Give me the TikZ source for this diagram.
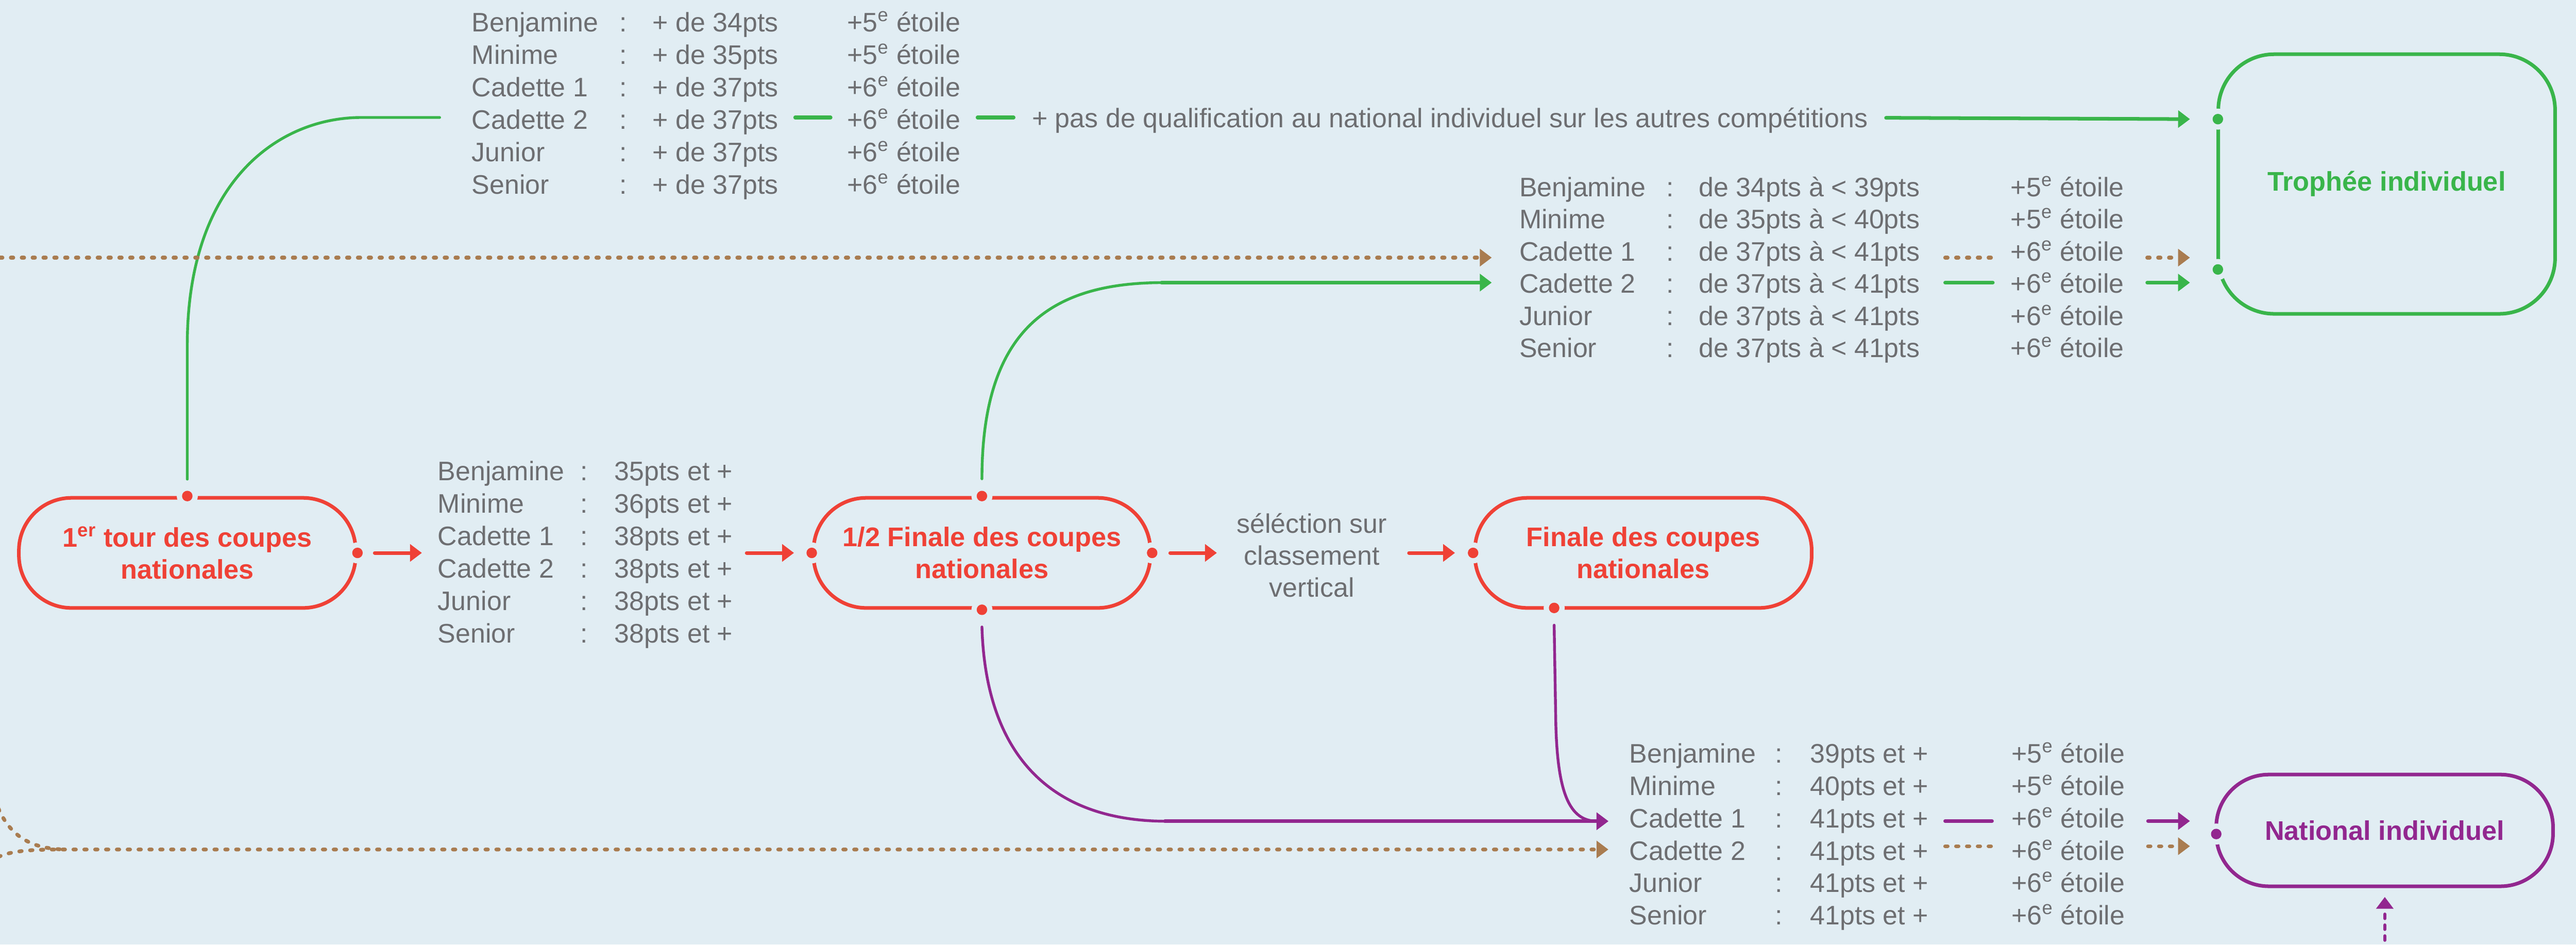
\documentclass[tikz,border=0pt]{standalone}
\usepackage{fontspec}
\setmainfont{Liberation Sans}
\usetikzlibrary{arrows.meta}
\definecolor{bgc}{HTML}{E1EDF3}
\definecolor{gr}{HTML}{39B54A}
\definecolor{rd}{HTML}{EF4136}
\definecolor{pu}{HTML}{92278F}
\definecolor{br}{HTML}{A97C50}
\definecolor{tx}{HTML}{6D6E71}
\newcommand\jdot[2]{\fill[bgc] (#2) circle (6.4pt); \fill[#1] (#2) circle (3.2pt);}
\tikzset{
 txt/.style={anchor=base west, inner sep=0pt, text=tx, font=\fontsize{16.3}{19.5}\selectfont},
 pill/.style={draw=#1, text=#1, rounded corners=32pt, line width=2.2pt, minimum width=205pt, minimum height=67pt, inner sep=0pt, align=center, font=\fontsize{16.4}{19.3}\selectfont\bfseries},
 tip/.style={-{Triangle[length=7.2pt,width=10.3pt]}},
 arr/.style={line width=2.2pt, line cap=round, tip},
 seg/.style={line width=2.2pt, line cap=round},
 crv/.style={line width=1.7pt, line cap=round},
 dots/.style={line width=2.3pt, line cap=round, dash pattern=on 1.5pt off 5.1pt, draw=br},
 pdots/.style={line width=2pt, line cap=round, dash pattern=on 2.6pt off 4pt, draw=pu},
}
\begin{document}
\begin{tikzpicture}[x=1pt,y=-1pt]
\useasboundingbox (0,0) rectangle (1568,574.84);
\clip (0,0) rectangle (1568,574.84);
\fill[bgc] (0,0) rectangle (1568,574.84);

% main nodes
\node[pill=rd] (n1) at (114,336.5) {1\textsuperscript{er} tour des coupes\\nationales};
\node[pill=rd] (n2) at (597.7,336.5) {1/2 Finale des coupes\\nationales};
\node[pill=rd] (n3) at (1000.25,336.5) {Finale des coupes\\nationales};
\node[pill=gr, minimum height=158pt, rounded corners=34pt] (tro) at (1452.75,112) {Trophée individuel};
\node[pill=pu, minimum height=68pt] (nat) at (1451.5,505.4) {National individuel};
\node[txt, anchor=center, align=center] (sel) at (798.5,338) {séléction sur\\classement\\vertical};
\node[txt] (qual) at (628,77.5) {+ pas de qualification au national individuel sur les autres compétitions};

% block A
\foreach \nm/\val/\st [count=\i] in {Benjamine/+ de 34pts/5, Minime/+ de 35pts/5, Cadette 1/+ de 37pts/6, Cadette 2/+ de 37pts/6, Junior/+ de 37pts/6, Senior/+ de 37pts/6}{
  \pgfmathsetmacro\yy{19.3+(\i-1)*19.74}
  \node[txt] (a\i) at (287,\yy) {\nm};
  \node[txt] (ac\i) at (377,\yy) {:};
  \node[txt] (av\i) at (397,\yy) {\val};
  \node[txt] (as\i) at (515.5,\yy) {+\st\textsuperscript{e} étoile};
}
% block B
\foreach \nm/\val [count=\i] in {Benjamine/35pts et +, Minime/36pts et +, Cadette 1/38pts et +, Cadette 2/38pts et +, Junior/38pts et +, Senior/38pts et +}{
  \pgfmathsetmacro\yy{292.5+(\i-1)*19.75}
  \node[txt] (b\i) at (266.3,\yy) {\nm};
  \node[txt] (bc\i) at (353.2,\yy) {:};
  \node[txt] (bv\i) at (373.8,\yy) {\val};
}
% block C
\foreach \nm/\val/\st [count=\i] in {Benjamine/de 34pts à < 39pts/5, Minime/de 35pts à < 40pts/5, Cadette 1/de 37pts à < 41pts/6, Cadette 2/de 37pts à < 41pts/6, Junior/de 37pts à < 41pts/6, Senior/de 37pts à < 41pts/6}{
  \pgfmathsetmacro\yy{119.5+(\i-1)*19.6}
  \node[txt] (c\i) at (924.6,\yy) {\nm};
  \node[txt] (cc\i) at (1014,\yy) {:};
  \node[txt] (cv\i) at (1033.8,\yy) {\val};
  \node[txt] (cs\i) at (1223.7,\yy) {+\st\textsuperscript{e} étoile};
}
% block D
\foreach \nm/\val/\st [count=\i] in {Benjamine/39pts et +/5, Minime/40pts et +/5, Cadette 1/41pts et +/6, Cadette 2/41pts et +/6, Junior/41pts et +/6, Senior/41pts et +/6}{
  \pgfmathsetmacro\yy{464.3+(\i-1)*19.7}
  \node[txt] (d\i) at (991.6,\yy) {\nm};
  \node[txt] (dc\i) at (1080.4,\yy) {:};
  \node[txt] (dv\i) at (1101.6,\yy) {\val};
  \node[txt] (ds\i) at (1224.2,\yy) {+\st\textsuperscript{e} étoile};
}

% free coordinates
\coordinate (aEnd) at (267.6,71.5);
\coordinate (cTip1) at (908,156.8);
\coordinate (cTip2) at (908,172);
\coordinate (dTip1) at (979,499.8);
\coordinate (dTip2) at (979,517);
\coordinate (n3b) at (946,370);
\coordinate (tro1) at (1350,72.5);
\coordinate (tro2) at (1350,164);
\coordinate (natw) at (1349,507.6);

% red arrows
\draw[arr, rd] ([xshift=10.5pt]n1.east) -- ([xshift=39.2pt]n1.east);
\draw[arr, rd] ([xshift=-39.6pt]n2.west) -- ([xshift=-10.8pt]n2.west);
\draw[arr, rd] ([xshift=11pt]n2.east) -- ([xshift=39.4pt]n2.east);
\draw[arr, rd] ([xshift=-39pt]n3.west) -- ([xshift=-11pt]n3.west);

% green connectors
\draw[crv, gr] ([yshift=10.3pt]n1.north) -- (114,210) .. controls (114,110) and (170,71.5) .. (220,71.5) -- (aEnd);
\draw[seg, gr] (484,71.5) -- (505.6,71.5);
\draw[seg, gr] (595,71.5) -- (617,71.5);
\draw[arr, gr] (1148,71.7) -- ([xshift=-17pt]tro1);
\draw[crv, gr] ([yshift=10.5pt]n2.north) .. controls (597.7,200) and (640,172) .. (708,172);
\draw[arr, gr] (707,172) -- (cTip2);
\draw[seg, gr] (1184,172) -- (1213,172);
\draw[arr, gr] (1307,172) -- (1333,172);

% purple connectors
\draw[crv, pu] ([yshift=-10.5pt]n2.south) .. controls (600,460) and (640,499.8) .. (710,499.8);
\draw[arr, pu] (709,499.8) -- (dTip1);
\draw[crv, pu, tip] ([yshift=-10.5pt]n3b) -- (947,440) .. controls (948,482) and (955,499.8) .. (dTip1);
\draw[seg, pu] (1184,499.7) -- (1212.5,499.7);
\draw[arr, pu] (1307.5,499.7) -- (1333,499.7);
\draw[pdots, tip] (1451.6,592) -- (1451.6,545.9);

% brown dotted connectors
\draw[dots, tip] (0,156.8) -- (cTip1);
\draw[dots] (1184,156.8) -- (1213,156.8);
\draw[dots, tip] (1307,156.8) -- (1333,156.8);
\draw[dots] (-1,492) .. controls (6,508) and (18,516.8) .. (40,517);
\draw[dots, tip] (-1,521.5) .. controls (8,517.5) and (20,517) .. (40,517) -- (dTip2);
\draw[dots] (1184,515) -- (1212.5,515);
\draw[dots, tip] (1307.5,515) -- (1333,515);

% junction dots
\jdot{rd}{n1.north}
\jdot{rd}{n1.east}
\jdot{rd}{n2.west}
\jdot{rd}{n2.north}
\jdot{rd}{n2.east}
\jdot{rd}{n2.south}
\jdot{rd}{n3.west}
\jdot{rd}{n3b}
\jdot{gr}{tro1}
\jdot{gr}{tro2}
\jdot{pu}{natw}
\end{tikzpicture}
\end{document}
